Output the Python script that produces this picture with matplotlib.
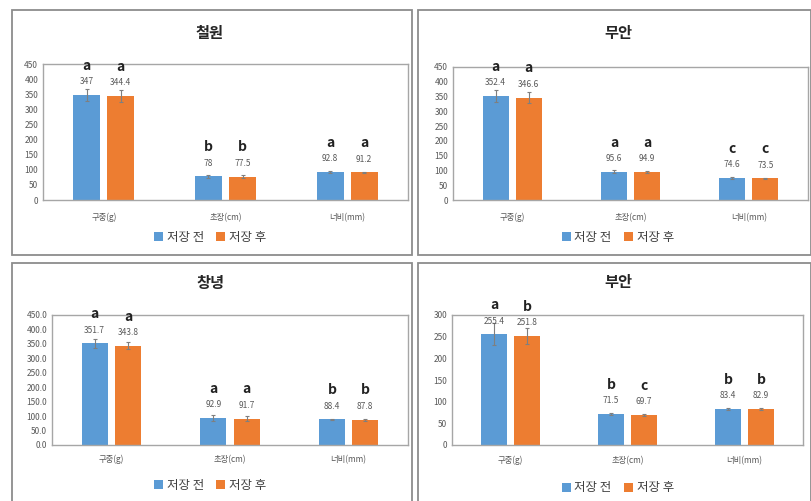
import matplotlib
matplotlib.use("Agg")
import matplotlib.pyplot as plt
from matplotlib.patches import Rectangle
from matplotlib.ticker import FormatStrFormatter
import numpy as np

plt.rcParams['font.family'] = ['Noto Sans CJK KR', 'DejaVu Sans']

# 데이터
categories = ['구중(g)', '초장(cm)', '너비(mm)']
series_names = ['저장 전', '저장 후']

titles = ['철원', '무안', '창녕', '부안']

before = [[347, 78, 92.8], [352.4, 95.6, 74.6], [351.7, 92.9, 88.4], [255.4, 71.5, 83.4]]
after = [[344.4, 77.5, 91.2], [346.6, 94.9, 73.5], [343.8, 91.7, 87.8], [251.8, 69.7, 82.9]]

err_before = [[20, 4, 3], [20, 5, 2], [15, 10, 3], [25, 2, 3]]
err_after = [[19, 4, 3], [18, 3, 2], [12, 10, 3], [18, 2, 3]]

before_lbl = [['347', '78', '92.8'], ['352.4', '95.6', '74.6'], ['351.7', '92.9', '88.4'], ['255.4', '71.5', '83.4']]
after_lbl = [['344.4', '77.5', '91.2'], ['346.6', '94.9', '73.5'], ['343.8', '91.7', '87.8'], ['251.8', '69.7', '82.9']]

letters_before = [['a', 'b', 'a'], ['a', 'a', 'c'], ['a', 'a', 'b'], ['a', 'b', 'b']]
letters_after = [['a', 'b', 'a'], ['a', 'a', 'c'], ['a', 'a', 'b'], ['b', 'c', 'b']]

ymax = [450, 450, 450, 300]
yfmt = ['%d', '%d', '%.1f', '%d']

blue = '#5B9BD5'
orange = '#ED7D31'
gray_txt = '#595959'

W, H = 811, 501
fig = plt.figure(figsize=(W / 100, H / 100), dpi=100)

# 패널 테두리 (픽셀 좌표)
panels = [(12, 10, 412, 255), (418, 10, 811, 255), (12, 263, 412, 505), (418, 263, 811, 505)]
for (x0, y0, x1, y1) in panels:
    fig.patches.append(Rectangle((x0 / W, 1 - y1 / H), (x1 - x0) / W, (y1 - y0) / H,
                                 transform=fig.transFigure, fill=False,
                                 edgecolor='#8c8c8c', linewidth=1.3))

# 플롯 영역 (left, top, right, bottom) 픽셀
boxes = [(43, 64, 408, 200), (453, 67, 808, 200), (52, 315, 408, 445), (452, 315, 803, 445)]
title_y = [33, 33, 283, 282]
label_y = [217, 217, 459, 460]
legend_y = [237, 237, 485, 488]

x = np.arange(len(categories))
bw = 0.22
off = 0.14

for i in range(4):
    l, t, r, b = boxes[i]
    ax = fig.add_axes([l / W, 1 - b / H, (r - l) / W, (b - t) / H])
    b1 = ax.bar(x - off, before[i], bw, color=blue, label=series_names[0], zorder=2)
    b2 = ax.bar(x + off, after[i], bw, color=orange, label=series_names[1], zorder=2)
    ax.errorbar(x - off, before[i], yerr=err_before[i], fmt='none', ecolor='#7f7f7f',
                elinewidth=0.8, capsize=1.5, capthick=0.8, zorder=3)
    ax.errorbar(x + off, after[i], yerr=err_after[i], fmt='none', ecolor='#7f7f7f',
                elinewidth=0.8, capsize=1.5, capthick=0.8, zorder=3)

    for j in range(len(categories)):
        for xx, v, lab, let in [(x[j] - off, before[i][j], before_lbl[i][j], letters_before[i][j]),
                                (x[j] + off, after[i][j], after_lbl[i][j], letters_after[i][j])]:
            ax.annotate(lab, (xx, v), xytext=(0, 9.5), textcoords='offset points',
                        ha='center', va='center', fontsize=6, color=gray_txt)
            ax.annotate(let, (xx, v), xytext=(0, 21), textcoords='offset points',
                        ha='center', va='center', fontsize=10, fontweight='bold',
                        color='#222222', annotation_clip=False)

    ax.set_xlim(-0.5, 2.5)
    ax.set_ylim(0, ymax[i])
    ax.set_yticks(np.arange(0, ymax[i] + 1, 50))
    ax.yaxis.set_major_formatter(FormatStrFormatter(yfmt[i]))
    ax.set_xticks(x)
    ax.set_xticklabels(categories)
    ax.tick_params(axis='both', length=0, labelsize=6, colors=gray_txt)
    ax.tick_params(axis='x', pad=(label_y[i] - b) * 0.72 - 3)
    for sp in ax.spines.values():
        sp.set_color('#a6a6a6')
        sp.set_linewidth(1.0)

    cx = (l + r) / 2
    if i % 2 == 0:
        cx = 210
    else:
        cx = 618
    fig.text(cx / W, 1 - title_y[i] / H, titles[i], ha='center', va='center',
             fontsize=11, fontweight='bold', color='#262626')

    leg = fig.legend(handles=[b1, b2], labels=series_names, loc='center',
                     bbox_to_anchor=(cx / W, 1 - legend_y[i] / H), ncol=2, frameon=False,
                     fontsize=9, handlelength=0.7, handleheight=0.7, handletextpad=0.3,
                     columnspacing=1.0, labelcolor='#404040')

fig.savefig('out.png', dpi=100)
